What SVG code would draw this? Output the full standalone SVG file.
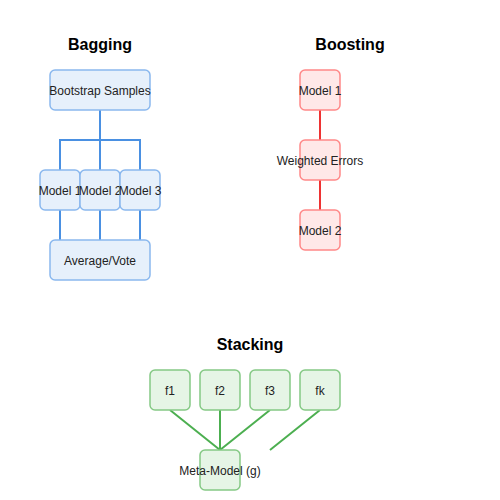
<svg xmlns="http://www.w3.org/2000/svg" width="500" height="500" viewBox="0 0 500 500">
<style>
text{font-family:"Liberation Sans",Arial,sans-serif;font-size:12px;fill:#222;text-anchor:middle}
.t{font-size:16px;font-weight:bold;fill:#000}
.bb{fill:#e6f0fb;stroke:#8ab8ee;stroke-width:1.5}
.rb{fill:#ffe8e8;stroke:#f88;stroke-width:1.5}
.gb{fill:#e6f5e6;stroke:#85c985;stroke-width:1.5}
.bl{stroke:#4a90e2;stroke-width:2;fill:none}
.rl{stroke:#e33;stroke-width:2;fill:none}
.gl{stroke:#4caf50;stroke-width:2;fill:none}
</style>
<rect width="500" height="500" fill="#fff"/>
<text class="t" x="100" y="50">Bagging</text>
<text class="t" x="350" y="50">Boosting</text>
<text class="t" x="250" y="350">Stacking</text>
<g id="connectors">
<path class="bl" d="M100 110V140M60 170V140H140V170M100 140V170M60 210V240M100 210V240M140 210V240"/>
<path class="rl" d="M320 110V140M320 180V210"/>
<path class="gl" d="M170 410L220 450M220 410V450M270 410L220 450M320 410L270 450"/>
</g>
<g id="bootstrap"><rect class="bb" x="50" y="70" width="100" height="40" rx="5"/><text x="100" y="95">Bootstrap Samples</text></g>
<g id="bmodel1"><rect class="bb" x="40" y="170" width="40" height="40" rx="5"/><text x="60" y="195">Model 1</text></g>
<g id="bmodel2"><rect class="bb" x="80" y="170" width="40" height="40" rx="5"/><text x="100" y="195">Model 2</text></g>
<g id="bmodel3"><rect class="bb" x="120" y="170" width="40" height="40" rx="5"/><text x="140" y="195">Model 3</text></g>
<g id="average"><rect class="bb" x="50" y="240" width="100" height="40" rx="5"/><text x="100" y="265">Average/Vote</text></g>
<g id="rmodel1"><rect class="rb" x="300" y="70" width="40" height="40" rx="5"/><text x="320" y="95">Model 1</text></g>
<g id="weighted"><rect class="rb" x="300" y="140" width="40" height="40" rx="5"/><text x="320" y="165">Weighted Errors</text></g>
<g id="rmodel2"><rect class="rb" x="300" y="210" width="40" height="40" rx="5"/><text x="320" y="235">Model 2</text></g>
<g id="f1"><rect class="gb" x="150" y="370" width="40" height="40" rx="5"/><text x="170" y="395">f1</text></g>
<g id="f2"><rect class="gb" x="200" y="370" width="40" height="40" rx="5"/><text x="220" y="395">f2</text></g>
<g id="f3"><rect class="gb" x="250" y="370" width="40" height="40" rx="5"/><text x="270" y="395">f3</text></g>
<g id="fk"><rect class="gb" x="300" y="370" width="40" height="40" rx="5"/><text x="320" y="395">fk</text></g>
<g id="meta"><rect class="gb" x="200" y="450" width="40" height="40" rx="5"/><text x="220" y="475">Meta-Model (g)</text></g>
</svg>
